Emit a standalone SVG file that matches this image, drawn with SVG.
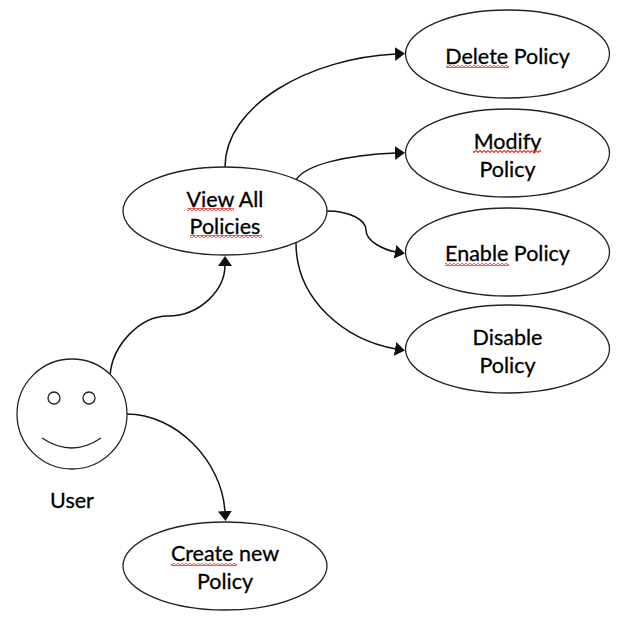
<svg xmlns="http://www.w3.org/2000/svg" width="623" height="621" viewBox="0 0 623 621">
<style>
.s{fill:#fff;stroke:#222;stroke-width:1.3}
.c{fill:none;stroke:#111;stroke-width:1.5}
.f{fill:none;stroke:#222;stroke-width:1.3}
text{font-family:"Lato","Liberation Sans",sans-serif;font-size:21.5px;fill:#000;stroke:#000;stroke-width:.3;text-anchor:middle}
.q{fill:url(#sq)}
</style>
<defs>
<marker id="a" markerUnits="userSpaceOnUse" markerWidth="11" markerHeight="16" refX="1" refY="8" orient="auto"><path d="M0 1L10 8L0 15Z" fill="#111"/></marker>
<pattern id="sq" patternUnits="userSpaceOnUse" width="4" height="3"><path d="M0 .5L2 2.5L4 .5" fill="none" stroke="#f0302c" stroke-width="1.1"/></pattern>
</defs>
<rect width="623" height="621" fill="#fff"/>
<g id="connectors">
<path class="c" marker-end="url(#a)" d="M225 167C225 105 310 58 396 54"/>
<path class="c" marker-end="url(#a)" d="M296 180C305 165 345 155 396 153"/>
<path class="c" marker-end="url(#a)" d="M327 211C350 211 366 220 366 230C366 242 385 250 396 252"/>
<path class="c" marker-end="url(#a)" d="M296 243C296 300 345 340 396 349"/>
<path class="c" marker-end="url(#a)" d="M110 376C112 345 140 316 168 316C200 316 225 290 225 265"/>
<path class="c" marker-end="url(#a)" d="M127 414C175 414 222 460 225 512"/>
</g>
<g id="user">
<circle class="s" cx="72" cy="414" r="55"/>
<circle class="f" cx="54" cy="398" r="6"/>
<circle class="f" cx="89" cy="398" r="6"/>
<path class="f" d="M42 438Q72 458 101 438"/>
<text x="72" y="508">User</text>
</g>
<g id="view-all">
<ellipse class="s" cx="225" cy="211" rx="102" ry="44"/>
<text x="225" y="207">View All</text>
<text x="225" y="234">Policies</text>
<rect class="q" x="187" y="208" width="47" height="3"/>
<rect class="q" x="190" y="235" width="72" height="3"/>
</g>
<g id="delete">
<ellipse class="s" cx="507.500" cy="54" rx="102" ry="44"/>
<text x="507.500" y="64">Delete Policy</text>
<rect class="q" x="446" y="65" width="63" height="3"/>
</g>
<g id="modify">
<ellipse class="s" cx="507.500" cy="153" rx="102" ry="44"/>
<text x="507.500" y="149">Modify</text>
<text x="507.500" y="177">Policy</text>
<rect class="q" x="473" y="150" width="68" height="3"/>
</g>
<g id="enable">
<ellipse class="s" cx="507.500" cy="252" rx="102" ry="44"/>
<text x="507.500" y="261">Enable Policy</text>
<rect class="q" x="445" y="263" width="64" height="3"/>
</g>
<g id="disable">
<ellipse class="s" cx="507.500" cy="349" rx="102" ry="44"/>
<text x="507.500" y="345">Disable</text>
<text x="507.500" y="373">Policy</text>
</g>
<g id="create">
<ellipse class="s" cx="225" cy="566" rx="102" ry="44"/>
<text x="225" y="561">Create new</text>
<text x="225" y="589">Policy</text>
<rect class="q" x="171" y="563" width="66" height="3"/>
</g>
</svg>
